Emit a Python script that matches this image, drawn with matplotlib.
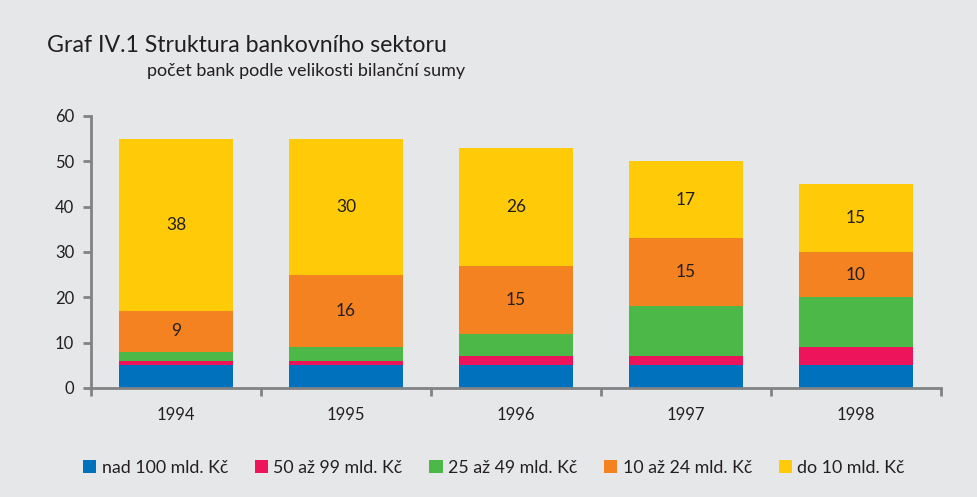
import matplotlib
matplotlib.use("Agg")
import matplotlib.pyplot as plt
import numpy as np
from matplotlib.patches import Patch

years = ["1994", "1995", "1996", "1997", "1998"]
series_names = ["nad 100 mld. Kč", "50 až 99 mld. Kč", "25 až 49 mld. Kč",
                "10 až 24 mld. Kč", "do 10 mld. Kč"]
nad100 = [5, 5, 5, 5, 5]
s50_99 = [1, 1, 2, 2, 4]
s25_49 = [2, 3, 5, 11, 11]
s10_24 = [9, 16, 15, 15, 10]
do10 = [38, 30, 26, 17, 15]
colors = ["#0071BC", "#EE145B", "#4CB848", "#F58220", "#FFCB08"]
labeled = [False, False, False, True, True]

plt.rcParams['font.family'] = ['Lato', 'DejaVu Sans']
bg = "#E6E7E9"
fig = plt.figure(figsize=(9.78, 4.97), dpi=100, facecolor=bg)
W, H = 978, 497
ax = fig.add_axes([91 / W, (H - 388) / H, (941 - 91) / W, (388 - 116) / H])
ax.set_facecolor(bg)

x = np.arange(len(years))
bottom = np.zeros(len(years))
for vals, c, name, lab in zip([nad100, s50_99, s25_49, s10_24, do10], colors, series_names, labeled):
    v = np.array(vals, dtype=float)
    ax.bar(x, v, width=0.67, bottom=bottom, color=c, edgecolor='none', label=name)
    if lab:
        for xi, vi, bi in zip(x, v, bottom):
            ax.text(xi, bi + vi / 2, f"{int(vi)}", ha='center', va='center',
                    fontsize=12.5, color='#231F20')
    bottom += v

ax.set_xlim(-0.5, len(years) - 0.5)
ax.set_ylim(0, 60)
ax.set_yticks(range(0, 61, 10))
ax.set_xticks(x)
ax.set_xticklabels(years)
ax.set_xticks(np.arange(-0.5, len(years), 1), minor=True)
ax.tick_params(axis='x', which='major', length=0, pad=14, labelsize=12, labelcolor='#231F20')
ax.tick_params(axis='x', which='minor', length=6, width=2, color='#808285', direction='out')
ax.tick_params(axis='y', length=6, width=2, color='#808285', labelsize=12, labelcolor='#231F20', pad=6)
for s in ['top', 'right']:
    ax.spines[s].set_visible(False)
for s in ['left', 'bottom']:
    ax.spines[s].set_color('#808285')
    ax.spines[s].set_linewidth(2)

fig.text(47 / W, 1 - 46 / H, "Graf IV.1 Struktura bankovního sektoru", fontsize=16.7,
         color='#231F20', ha='left', va='center')
fig.text(147 / W, 1 - 71 / H, "počet bank podle velikosti bilanční sumy", fontsize=13,
         color='#231F20', ha='left', va='center')

handles = [Patch(facecolor=c, edgecolor='none') for c in colors]
fig.legend(handles, series_names, loc='center', bbox_to_anchor=(494 / W, 1 - 468 / H),
           ncol=5, frameon=False, fontsize=12.8, handlelength=0.75, handleheight=0.75,
           handletextpad=0.3, columnspacing=1.5, labelcolor='#231F20')

fig.savefig("out.png", dpi=100, facecolor=bg)
